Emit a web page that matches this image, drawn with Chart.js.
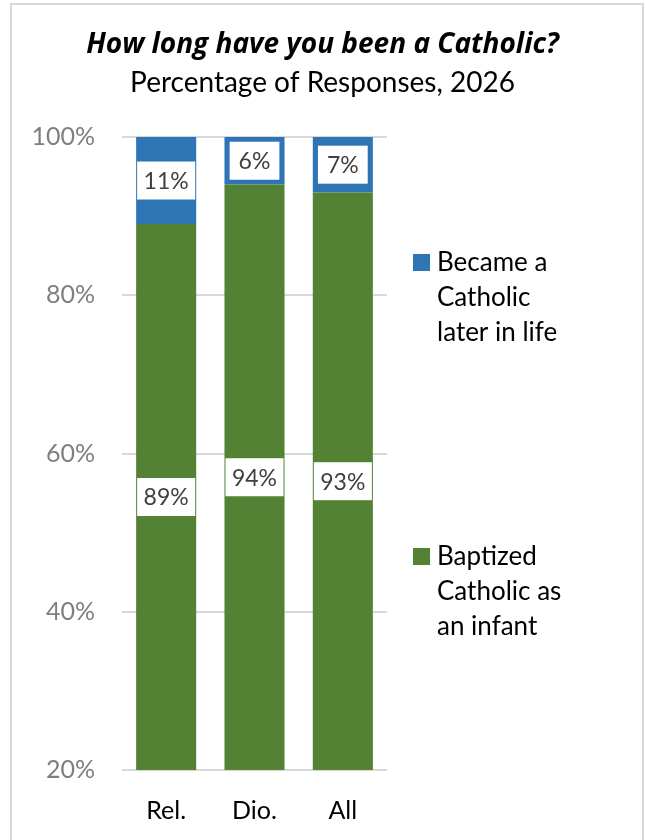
<!DOCTYPE html>
<html>
<head>
<meta charset="utf-8">
<script src="https://cdn.jsdelivr.net/npm/chart.js@4.4.1/dist/chart.umd.min.js"></script>
<style>
  html, body { margin: 0; padding: 0; background: #fff; }
  #wrap { position: relative; width: 645px; height: 840px; overflow: hidden; }
  #frame {
    position: absolute; left: 10px; top: 3px; width: 634px; height: 900px;
    border: 2px solid #d9d9d9; box-sizing: border-box; pointer-events: none;
  }
  canvas { position: absolute; left: 0; top: 0; }
</style>
</head>
<body>
<div id="wrap">
  <canvas id="chart" width="645" height="840"></canvas>
  <div id="frame"></div>
</div>
<script>
const categories = ["Rel.", "Dio.", "All"];
const infantValues = [89, 94, 93];
const laterValues = [11, 6, 7];
const seriesNames = ["Baptized Catholic as an infant", "Became a Catholic later in life"];
const legendLines = [
  ["Became a", "Catholic", "later in life"],
  ["Baptized", "Catholic as", "an infant"]
];

const BLUE = "#2e75b6";
const GREEN = "#548235";
const FONT = "Lato, 'Open Sans', sans-serif";

// white boxes with the value, centred in the visible part of each segment
const segmentLabels = {
  id: "segmentLabels",
  afterDatasetsDraw(chart) {
    const { ctx, chartArea } = chart;
    ctx.save();
    ctx.font = "23px " + FONT;
    ctx.textAlign = "center";
    ctx.textBaseline = "middle";
    chart.data.datasets.forEach((ds, i) => {
      chart.getDatasetMeta(i).data.forEach((bar, j) => {
        const txt = ds.data[j] + "%";
        const top = Math.max(bar.y, chartArea.top);
        const bottom = Math.min(bar.base, chartArea.bottom);
        const cy = (top + bottom) / 2;
        const w = Math.min(ctx.measureText(txt).width + 18, bar.width - 2);
        const h = 38;
        ctx.fillStyle = "#fff";
        ctx.fillRect(bar.x - w / 2, cy - h / 2, w, h);
        ctx.fillStyle = "#404040";
        ctx.fillText(txt, bar.x, cy + 1);
      });
    });
    ctx.restore();
  }
};

// legend on the right, wrapped over three lines
const sideLegend = {
  id: "sideLegend",
  afterDraw(chart) {
    const { ctx, chartArea } = chart;
    const items = [
      { color: BLUE, lines: legendLines[0], top: chartArea.top + 117 },
      { color: GREEN, lines: legendLines[1], top: chartArea.top + 411 }
    ];
    ctx.save();
    ctx.font = "26px " + FONT;
    ctx.textBaseline = "alphabetic";
    ctx.textAlign = "left";
    items.forEach(it => {
      ctx.fillStyle = it.color;
      ctx.fillRect(chartArea.right + 26, it.top, 17, 17);
      ctx.fillStyle = "#000";
      it.lines.forEach((ln, k) => {
        ctx.fillText(ln, chartArea.right + 50, it.top + 17 + k * 35);
      });
    });
    ctx.restore();
  }
};

new Chart(document.getElementById("chart"), {
  type: "bar",
  data: {
    labels: categories,
    datasets: [
      { label: seriesNames[0], data: infantValues, backgroundColor: GREEN },
      { label: seriesNames[1], data: laterValues, backgroundColor: BLUE }
    ]
  },
  options: {
    responsive: false,
    animation: false,
    events: [],
    layout: { padding: 0 },
    datasets: { bar: { categoryPercentage: 1, barPercentage: 0.68 } },
    scales: {
      x: {
        stacked: true,
        grid: { display: false },
        border: { display: false },
        ticks: { color: "#000", font: { family: FONT, size: 25 }, padding: 18 },
        afterFit(scale) { scale.height = 70; }
      },
      y: {
        stacked: true,
        min: 20,
        max: 100,
        ticks: {
          stepSize: 20,
          color: "#7f7f7f",
          font: { family: FONT, size: 25 },
          padding: 27,
          callback: v => v + "%"
        },
        grid: { color: "#d9d9d9", lineWidth: 2, drawTicks: false },
        border: { display: false },
        afterFit(scale) { scale.width = 122; }
      },
      // empty right axis, only keeps room for the legend
      legendSpace: {
        type: "linear",
        position: "right",
        grid: { display: false },
        border: { display: false },
        ticks: { display: false },
        afterFit(scale) { scale.width = 258; }
      }
    },
    plugins: {
      legend: { display: false },
      tooltip: { enabled: false },
      title: {
        display: true,
        text: "How long have you been a Catholic?",
        color: "#000",
        font: { family: "'Open Sans', Lato, sans-serif", size: 28, weight: "bold", style: "italic", lineHeight: 1.2 },
        padding: { top: 28, bottom: 0 }
      },
      subtitle: {
        display: true,
        text: "Percentage of Responses, 2026",
        color: "#000",
        font: { family: FONT, size: 28, lineHeight: 1.2 },
        padding: { top: 4.6, bottom: 37.2 }
      }
    }
  },
  plugins: [segmentLabels, sideLegend]
});
</script>
</body>
</html>
